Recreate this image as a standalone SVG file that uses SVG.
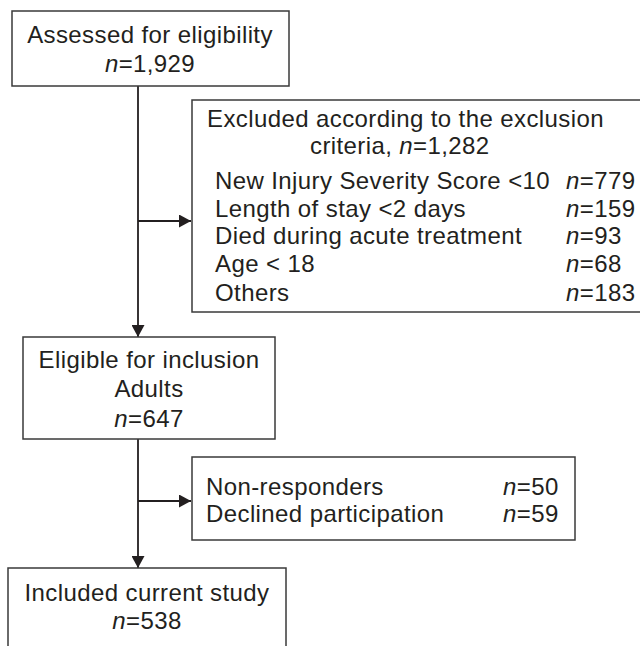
<svg xmlns="http://www.w3.org/2000/svg" width="640" height="646" viewBox="0 0 640 646">
<style>
.box{fill:#fff;stroke:#3a3a3a;stroke-width:1.5}
.t{font-family:"Liberation Sans",Arial,sans-serif;font-size:24px;letter-spacing:0.4px;fill:#231f20}
.c{text-anchor:middle}
.ln{stroke:#231f20;stroke-width:1.8;fill:none}
</style>
<defs>
<marker id="ah" markerWidth="12" markerHeight="13" refX="12" refY="6.5" orient="auto" markerUnits="userSpaceOnUse">
<path d="M0,0 L12,6.5 L0,13 Z" fill="#231f20"/>
</marker>
</defs>
<rect width="640" height="646" fill="#fff"/>
<g id="connectors">
<line class="ln" x1="138" y1="86" x2="138" y2="337" marker-end="url(#ah)"/>
<line class="ln" x1="138" y1="221" x2="191" y2="221" marker-end="url(#ah)"/>
<line class="ln" x1="138" y1="439" x2="138" y2="568" marker-end="url(#ah)"/>
<line class="ln" x1="138" y1="501" x2="191" y2="501" marker-end="url(#ah)"/>
</g>
<g id="assessed">
<rect class="box" x="12" y="11" width="277" height="75"/>
<text class="t c" x="150" y="43">Assessed for eligibility</text>
<text class="t c" x="150" y="72"><tspan font-style="italic">n</tspan>=1,929</text>
</g>
<g id="excluded">
<rect class="box" x="192" y="100" width="460" height="212"/>
<text class="t" x="207" y="127">Excluded according to the exclusion</text>
<text class="t" x="310" y="154">criteria, <tspan font-style="italic">n</tspan>=1,282</text>
<text class="t" x="215" y="189">New Injury Severity Score &lt;10</text>
<text class="t" x="215" y="217">Length of stay &lt;2 days</text>
<text class="t" x="215" y="244">Died during acute treatment</text>
<text class="t" x="215" y="272">Age &lt; 18</text>
<text class="t" x="215" y="301">Others</text>
<text class="t" x="566" y="189"><tspan font-style="italic">n</tspan>=779</text>
<text class="t" x="566" y="217"><tspan font-style="italic">n</tspan>=159</text>
<text class="t" x="566" y="244"><tspan font-style="italic">n</tspan>=93</text>
<text class="t" x="566" y="272"><tspan font-style="italic">n</tspan>=68</text>
<text class="t" x="566" y="301"><tspan font-style="italic">n</tspan>=183</text>
</g>
<g id="eligible">
<rect class="box" x="23" y="337" width="252" height="102"/>
<text class="t c" x="149" y="368">Eligible for inclusion</text>
<text class="t c" x="149" y="397">Adults</text>
<text class="t c" x="149" y="427"><tspan font-style="italic">n</tspan>=647</text>
</g>
<g id="nonresp">
<rect class="box" x="192" y="457" width="383" height="83"/>
<text class="t" x="206" y="495">Non-responders</text>
<text class="t" x="206" y="522">Declined participation</text>
<text class="t" x="503" y="495"><tspan font-style="italic">n</tspan>=50</text>
<text class="t" x="503" y="522"><tspan font-style="italic">n</tspan>=59</text>
</g>
<g id="included">
<rect class="box" x="8" y="568" width="278" height="100"/>
<text class="t c" x="147" y="601">Included current study</text>
<text class="t c" x="147" y="629"><tspan font-style="italic">n</tspan>=538</text>
</g>
</svg>
